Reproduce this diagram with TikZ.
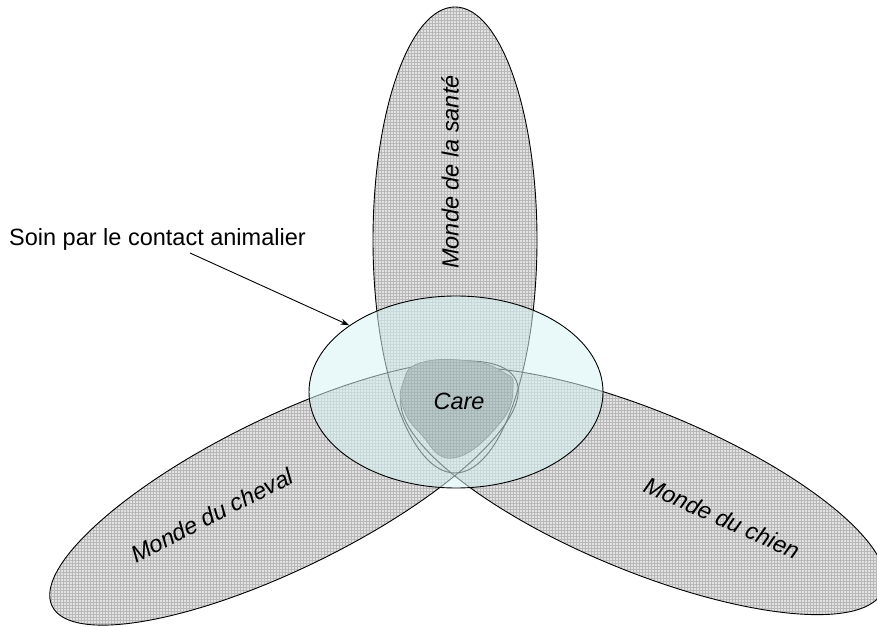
\documentclass[tikz,border=0pt]{standalone}
\usepackage{fontspec}
\setmainfont{Liberation Sans}
\usetikzlibrary{patterns,arrows.meta,shapes.geometric}
\definecolor{grayfill}{RGB}{226,226,226}
\definecolor{gridgray}{RGB}{184,184,184}
\definecolor{carefill}{RGB}{150,150,150}
\definecolor{cyanfill}{RGB}{215,244,244}
\begin{document}
\begin{tikzpicture}[x=1pt,y=1pt,
  worldfill/.style={fill=grayfill, postaction={pattern=grid, pattern color=gridgray}},
  outline/.style={draw=black, line width=0.9pt},
  lbl/.style={font=\fontsize{23.5}{28}\selectfont\itshape, inner sep=0pt},
  plain/.style={font=\fontsize{23.5}{28}\selectfont, inner sep=0pt}
]
\useasboundingbox (0,0) rectangle (877,626);
\clip (0,0) rectangle (877,626);
% fills of the three worlds
\fill[worldfill] (455,386) ellipse [x radius=82, y radius=233];
\fill[worldfill, rotate around={26:(284,133)}] (284,133) ellipse [x radius=258, y radius=76];
\fill[worldfill, rotate around={-22.4:(643,135)}] (643,135) ellipse [x radius=260, y radius=80];
% outlines
\draw[outline] (455,386) ellipse [x radius=82, y radius=233];
\draw[outline, rotate around={26:(284,133)}] (284,133) ellipse [x radius=258, y radius=76];
\draw[outline, rotate around={-22.4:(643,135)}] (643,135) ellipse [x radius=260, y radius=80];
% care region
\fill[carefill, postaction={pattern=grid, pattern color=gridgray!60!black}] plot[smooth cycle, tension=0.8] coordinates {(403,243) (420,263) (470,265) (503,254) (513,239) (500,203) (453,168) (420,193) (403,219)};
\draw[draw=black!70, line width=0.7pt] plot[smooth cycle, tension=0.8] coordinates {(403,243) (420,263) (470,265) (503,254) (513,239) (500,203) (453,168) (420,193) (403,219)};
% cyan ellipse
\node[ellipse, draw=black, line width=0.9pt, fill=cyanfill, fill opacity=0.55, draw opacity=1, minimum width=294pt, minimum height=192pt, inner sep=0pt] (cy) at (456,234) {};
% labels
\node[lbl, rotate=90] (sante) at (450,454) {Monde de la santé};
\node[lbl, rotate=27] (cheval) at (212,111) {Monde du cheval};
\node[lbl, rotate=-24] (chien) at (722,108) {Monde du chien};
\node[lbl] (care) at (459,225) {Care};
\node[plain, anchor=base west] (soin) at (9,380) {Soin par le contact animalier};
\coordinate (arrstart) at (190,373);
\draw[-{Stealth[length=9pt,width=6pt]}, line width=0.9pt] (arrstart) -- (cy.148);
\end{tikzpicture}
\end{document}
